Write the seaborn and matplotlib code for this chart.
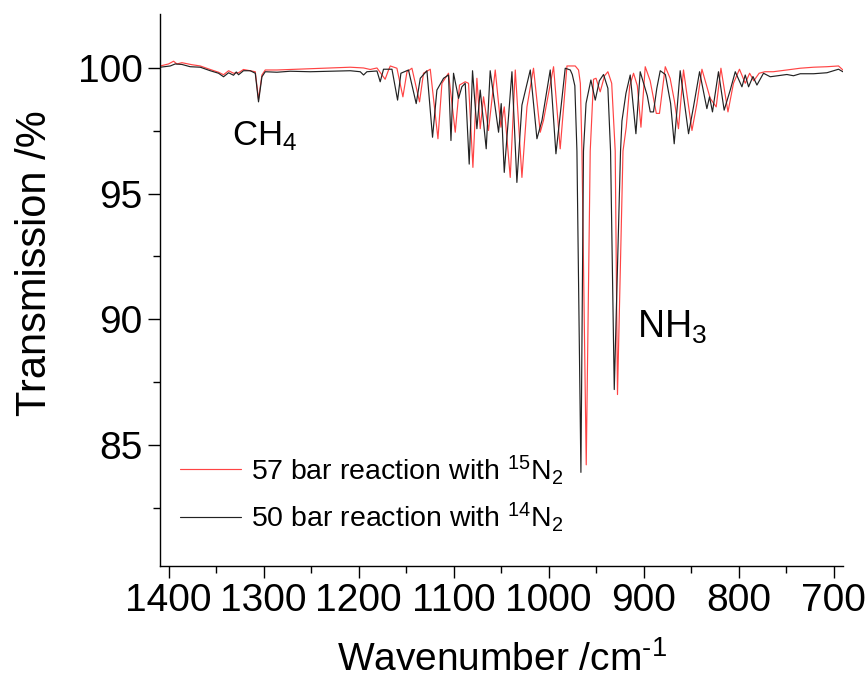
import matplotlib
matplotlib.use("Agg")
import matplotlib.pyplot as plt
from matplotlib.ticker import MultipleLocator
import seaborn as sns
import pandas as pd

# ---- data ----
label_15 = r"57 bar reaction with $^{15}$N$_2$"
label_14 = r"50 bar reaction with $^{14}$N$_2$"

wn_15 = [1408.7, 1400.0, 1394.7, 1391.2, 1385.9, 1375.4, 1366.6, 1356.1, 1347.4, 1342.1,
         1336.8, 1331.6, 1326.3, 1321.1, 1308.7, 1305.3, 1301.7, 1298.2, 1285.9, 1271.9,
         1250.8, 1229.8, 1208.7, 1194.7, 1187.7, 1180.6, 1172.0, 1168.4, 1166.6, 1159.6,
         1153.3, 1149.0, 1143.8, 1135.8, 1131.6, 1124.5, 1116.4, 1112.2, 1105.3, 1098.2,
         1093.7, 1087.7, 1084.2, 1079.6, 1075.4, 1071.9, 1068.4, 1063.2, 1056.1, 1050.1,
         1046.6, 1040.3, 1035.0, 1028.0, 1022.7, 1015.8, 1008.7, 1005.3, 994.7, 987.7,
         980.6, 971.9, 968.4, 966.5, 964.8, 960.3, 956.1, 952.6, 950.0, 945.6,
         941.0, 937.5, 933.5, 929.8, 927.4, 921.6, 918.2, 914.5, 910.5, 906.5,
         902.7, 898.2, 893.0, 886.5, 883.2, 877.1, 872.0, 867.5, 863.2, 857.9,
         849.0, 843.8, 838.5, 829.8, 823.5, 818.5, 811.1, 805.3, 799.0, 792.9,
         788.3, 783.9, 778.3, 772.2, 763.5, 749.1, 735.0, 721.0, 706.9, 694.7,
         690.1]
T_15 = [100.09, 100.17, 100.28, 100.17, 100.22, 100.14, 100.09, 99.95, 99.84, 99.74,
        99.90, 99.80, 99.82, 99.95, 99.86, 98.76, 99.73, 99.93, 99.93, 99.95,
        99.98, 100.01, 100.04, 100.01, 99.95, 100.01, 99.56, 99.93, 100.09, 100.00,
        98.86, 99.86, 100.00, 98.66, 99.80, 99.96, 97.19, 99.40, 99.80, 97.45,
        99.33, 99.46, 99.40, 96.05, 99.60, 97.59, 98.86, 97.52, 99.93, 97.65,
        98.46, 95.65, 99.93, 95.65, 98.46, 100.00, 97.45, 97.92, 100.06, 96.79,
        100.09, 100.09, 99.93, 99.40, 96.70, 84.20, 96.70, 99.56, 99.60, 99.06,
        99.70, 99.86, 99.40, 96.70, 87.00, 96.70, 97.65, 99.30, 99.80, 99.30,
        97.65, 100.06, 99.50, 98.20, 98.20, 100.06, 99.60, 98.70, 97.59, 99.93,
        97.52, 98.59, 99.96, 98.80, 98.46, 100.00, 98.26, 99.40, 99.96, 99.40,
        99.80, 99.50, 99.80, 99.86, 99.86, 99.93, 100.00, 100.04, 100.06, 100.09,
        99.93]

wn_14 = [1408.7, 1398.2, 1393.0, 1385.9, 1377.2, 1366.6, 1356.1, 1347.4, 1342.1, 1336.8,
         1331.6, 1328.7, 1326.3, 1321.1, 1314.0, 1308.7, 1305.3, 1301.7, 1298.2, 1285.9,
         1271.9, 1250.8, 1229.8, 1208.7, 1198.2, 1194.7, 1191.2, 1180.6, 1177.2, 1173.7,
         1164.8, 1158.9, 1155.4, 1147.4, 1139.3, 1135.0, 1128.0, 1122.1, 1117.5, 1110.5,
         1105.3, 1102.7, 1100.0, 1094.7, 1091.2, 1087.7, 1083.5, 1080.0, 1075.4, 1071.9,
         1065.6, 1061.4, 1052.6, 1049.8, 1046.6, 1038.5, 1033.3, 1028.0, 1019.2, 1012.2,
         1006.9, 998.2, 992.2, 982.4, 977.1, 975.0, 972.3, 970.1, 965.9, 963.2,
         960.5, 955.4, 950.8, 946.5, 942.1, 937.5, 934.7, 930.8, 924.2, 922.7,
         918.5, 914.0, 908.0, 903.5, 896.0, 892.9, 889.5, 886.0, 882.4, 877.0,
         871.5, 867.7, 861.4, 852.6, 847.4, 841.0, 833.3, 830.5, 827.4, 821.1,
         815.1, 808.7, 803.4, 796.4, 792.9, 789.4, 784.8, 780.6, 773.7, 766.6,
         749.1, 742.1, 735.0, 721.0, 706.9, 694.7, 690.1]
T_14 = [100.04, 100.09, 100.17, 100.15, 100.06, 100.04, 99.90, 99.80, 99.66, 99.82,
        99.72, 99.85, 99.74, 99.90, 99.90, 99.80, 98.66, 99.66, 99.86, 99.84,
        99.88, 99.86, 99.88, 99.90, 99.86, 99.73, 99.86, 99.89, 99.46, 99.96,
        99.96, 98.73, 99.80, 99.93, 98.59, 99.60, 99.90, 97.25, 99.13, 99.60,
        99.73, 97.12, 99.80, 98.80, 99.26, 99.40, 96.18, 99.90, 97.59, 99.13,
        96.79, 99.90, 97.45, 98.59, 95.85, 99.86, 95.45, 98.53, 99.93, 97.19,
        97.92, 99.93, 96.59, 100.00, 99.93, 99.75, 99.30, 96.70, 83.90, 96.70,
        98.60, 99.53, 98.73, 99.50, 99.75, 99.20, 96.70, 87.20, 96.70, 97.90,
        99.00, 99.73, 97.39, 99.86, 98.90, 98.26, 98.26, 99.20, 99.90, 99.75,
        98.60, 96.99, 99.90, 97.39, 98.46, 99.86, 98.39, 98.86, 98.26, 99.86,
        98.33, 99.13, 99.86, 99.26, 99.73, 99.26, 99.67, 99.33, 99.80, 99.66,
        99.75, 99.70, 99.78, 99.78, 99.82, 99.96, 99.86]

x_ticks = [1400, 1300, 1200, 1100, 1000, 900, 800, 700]
y_ticks = [85, 90, 95, 100]

# ---- styling ----
sns.set_style("ticks", {"axes.edgecolor": "black", "text.color": "black",
                        "xtick.color": "black", "ytick.color": "black",
                        "axes.labelcolor": "black"})
plt.rcParams["font.family"] = ["Liberation Sans", "DejaVu Sans"]
plt.rcParams["mathtext.fontset"] = "custom"
plt.rcParams["mathtext.rm"] = "Liberation Sans"
plt.rcParams["mathtext.it"] = "Liberation Sans:italic"
plt.rcParams["mathtext.bf"] = "Liberation Sans:bold"

df = pd.concat([
    pd.DataFrame({"wn": wn_15, "T": T_15, "series": label_15}),
    pd.DataFrame({"wn": wn_14, "T": T_14, "series": label_14}),
], ignore_index=True)

fig = plt.figure(figsize=(8.68, 6.82), dpi=100)
ax = fig.add_axes([160 / 868, 1 - 566 / 682, (843 - 160) / 868, (566 - 14) / 682])

sns.lineplot(data=df, x="wn", y="T", hue="series",
             hue_order=[label_15, label_14],
             palette={label_15: "#ff4444", label_14: "#222222"},
             estimator=None, sort=False, linewidth=0.85, ax=ax)

ax.set_xlim(1409, 690)
ax.set_ylim(80.17, 102.16)
ax.set_xticks(x_ticks)
ax.set_yticks(y_ticks)
ax.xaxis.set_minor_locator(MultipleLocator(50))
ax.yaxis.set_minor_locator(MultipleLocator(2.5))
ax.tick_params(which="major", direction="out", length=8.4, width=1.0, labelsize=28,
               pad=4, colors="black")
ax.tick_params(which="minor", direction="out", length=4.8, width=1.0, colors="black")
for s in ["top", "right"]:
    ax.spines[s].set_visible(False)
for s in ["left", "bottom"]:
    ax.spines[s].set_linewidth(1.0)
    ax.spines[s].set_color("black")

ax.set_xlabel(r"Wavenumber /cm$^{\text{-1}}$", fontsize=28, color="black")
ax.xaxis.set_label_coords(0.5, -(660 - 566) / 552, transform=ax.transAxes)
ax.set_ylabel("Transmission /%", fontsize=30, color="black")
ax.yaxis.set_label_coords(-(160 - 35) / 683, (566 - 263) / 552, transform=ax.transAxes)
ax.xaxis.label.set_va("center")
ax.yaxis.label.set_va("center")

ax.text(1333.3, 96.94, r"CH$_4$", fontsize=25, ha="left", va="baseline", color="black")
ax.text(906.6, 89.25, r"NH$_3$", fontsize=27, ha="left", va="baseline", color="black")

handles, labels = ax.get_legend_handles_labels()
leg = ax.legend(handles, labels, frameon=False, loc="lower left",
                bbox_to_anchor=(0.029, 0.058), fontsize=20.5, handlelength=2.15,
                handletextpad=0.35, labelspacing=0.48, borderpad=0, borderaxespad=0)
for line in leg.get_lines():
    line.set_linewidth(0.85)
for t in leg.get_texts():
    t.set_color("black")

fig.savefig("out.png", dpi=100)
